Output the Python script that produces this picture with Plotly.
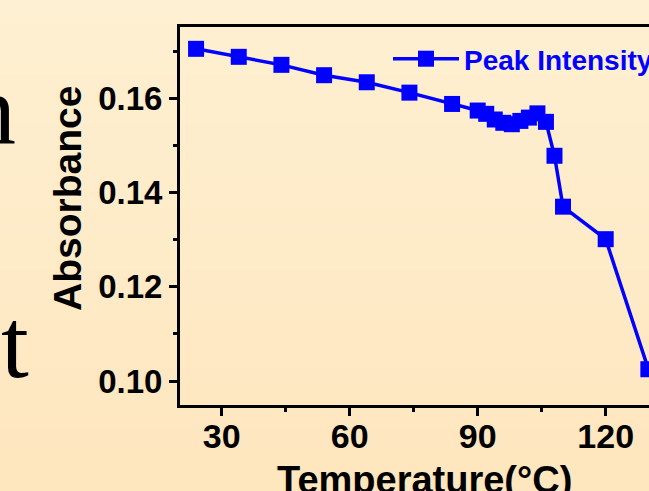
import plotly.graph_objects as go

# ---- data ----
temperature = [24, 34, 44, 54, 64, 74, 84, 90, 92, 94, 96, 98, 100, 102, 104, 106, 108, 110, 120, 130]
absorbance = [0.1705, 0.1688, 0.1671, 0.1649, 0.1634, 0.1612, 0.1588, 0.1574, 0.1567, 0.1555,
              0.1548, 0.1545, 0.1552, 0.1559, 0.1568, 0.1550, 0.1478, 0.1370, 0.1301, 0.1025]
series_name = "Peak Intensity"
x_ticks = [30, 60, 90, 120]
y_ticks = [0.10, 0.12, 0.14, 0.16]
x_title = "Temperature(°C)"
y_title = "Absorbance"

W, H = 649, 491
ML, MR, MT, MB = 180, 0, 27, 86
PW, PH = W - ML - MR, H - MT - MB

def px(xp):
    return (xp - ML) / PW

def py(yp):
    return (H - MB - yp) / PH

BLUE = "#0000FF"
FONT = "Liberation Sans, Arial, sans-serif"

fig = go.Figure()
fig.add_trace(go.Scatter(
    x=temperature, y=absorbance, name=series_name, mode="lines+markers",
    line=dict(color=BLUE, width=3.5),
    marker=dict(symbol="square", size=16, color=BLUE, line=dict(width=0)),
    cliponaxis=False,
))

# background vertical gradient (paper)
top = (254, 240, 210)
bot = (254, 230, 190)
n = 40
shapes = []
for i in range(n):
    t = i / (n - 1)
    c = tuple(round(top[k] + (bot[k] - top[k]) * t) for k in range(3))
    y0 = i * H / n
    y1 = (i + 1) * H / n + 1
    shapes.append(dict(type="rect", xref="paper", yref="paper", layer="below",
                       x0=px(0), x1=px(W), y0=py(y1), y1=py(y0),
                       fillcolor="rgb(%d,%d,%d)" % c, line=dict(width=0)))

axis_common = dict(
    showgrid=False, zeroline=False, showline=True, linecolor="black", linewidth=3,
    ticks="outside", tickcolor="black", tickwidth=3, ticklen=8, automargin=False,
)

fig.update_layout(
    width=W, height=H,
    margin=dict(l=ML, r=MR, t=MT, b=MB, autoexpand=False),
    paper_bgcolor="rgb(254,236,202)",
    plot_bgcolor="rgba(0,0,0,0)",
    shapes=shapes,
    showlegend=True,
    legend=dict(x=px(388), y=py(34), xanchor="left", yanchor="top",
                bgcolor="rgba(0,0,0,0)", itemwidth=66,
                font=dict(family=FONT, size=28, color=BLUE, weight="bold")),
    xaxis=dict(range=[20.23, 130.15], tickvals=x_ticks, mirror=True, ticklabelstandoff=-9,
               tickfont=dict(family=FONT, size=34, color="black", weight="bold"),
               minor=dict(dtick=15, tick0=0, ticks="outside", ticklen=4, tickwidth=3, tickcolor="black"),
               **axis_common),
    yaxis=dict(range=[0.09491, 0.17513], tickvals=y_ticks, tickformat=".2f", mirror=False,
               tickfont=dict(family=FONT, size=33, color="black", weight="bold"),
               minor=dict(dtick=0.01, tick0=0, ticks="outside", ticklen=4, tickwidth=3, tickcolor="black"),
               **axis_common),
    annotations=[
        dict(text=y_title, xref="paper", yref="paper", x=px(67), y=py(199),
             xanchor="center", yanchor="middle", textangle=-90, showarrow=False,
             font=dict(family=FONT, size=39, color="black", weight="bold")),
        dict(text=x_title, xref="paper", yref="paper", x=px(424.5), y=py(480),
             xanchor="center", yanchor="middle", showarrow=False,
             font=dict(family=FONT, size=38, color="black", weight="bold")),
        dict(text="n", xref="paper", yref="paper", x=px(18), y=py(110),
             xanchor="right", yanchor="middle", showarrow=False,
             font=dict(family="Liberation Serif, Times New Roman, serif", size=100, color="black")),
        dict(text="nt", xref="paper", yref="paper", x=px(31), y=py(343),
             xanchor="right", yanchor="middle", showarrow=False,
             font=dict(family="Liberation Serif, Times New Roman, serif", size=100, color="black")),
    ],
)

fig.write_html("out.html", config={"displayModeBar": False},
               post_script="document.body.style.margin='0';document.body.style.overflow='hidden';")
